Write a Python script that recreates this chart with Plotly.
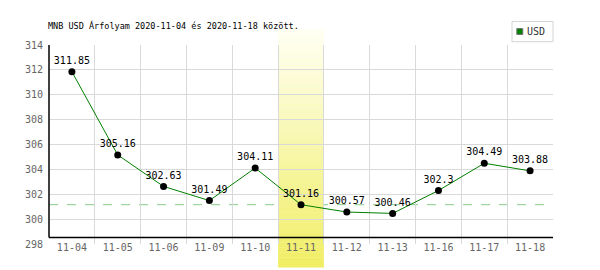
import plotly.graph_objects as go

dates = ["11-04", "11-05", "11-06", "11-09", "11-10", "11-11", "11-12", "11-13", "11-16", "11-17", "11-18"]
usd = [311.85, 305.16, 302.63, 301.49, 304.11, 301.16, 300.57, 300.46, 302.3, 304.49, 303.88]
highlight_idx = 5
ref_value = 301.16
title_text = "MNB USD Árfolyam 2020-11-04 és 2020-11-18 között."
series_name = "USD"

MONO = "DejaVu Sans Mono"

fig = go.Figure()
fig.add_trace(go.Scatter(
    x=dates, y=usd, mode="lines+markers+text",
    line=dict(color="#008000", width=1),
    marker=dict(color="#000000", size=7),
    text=[f"{v:g}" for v in usd], textposition="top center",
    textfont=dict(family=MONO, size=10, color="#000000"),
    showlegend=False, cliponaxis=False,
))

shapes = []
# dashed reference line
shapes.append(dict(type="line", xref="paper", x0=0, x1=1, yref="y", y0=ref_value, y1=ref_value,
                   line=dict(color="#88cc88", width=1, dash="dash"), layer="between"))
# gradient band for highlighted day
n = 48
y_bot, y_top = -0.118, 1.08
top_c = (255, 255, 242)
bot_c = (240, 238, 100)
for i in range(n):
    t = i / (n - 1)
    c = tuple(round(bot_c[k] + (top_c[k] - bot_c[k]) * t) for k in range(3))
    y0 = y_bot + (y_top - y_bot) * i / n
    y1 = y_bot + (y_top - y_bot) * (i + 1) / n
    shapes.append(dict(type="rect", xref="x", x0=highlight_idx - 0.5, x1=highlight_idx + 0.5,
                       yref="paper", y0=y0, y1=y1 + 0.002, line=dict(width=0),
                       fillcolor="rgb(%d,%d,%d)" % c, layer="between"))
# axes lines
x_axis_y = 298.52
shapes.append(dict(type="line", xref="paper", x0=0, x1=1, yref="y", y0=x_axis_y, y1=x_axis_y,
                   line=dict(color="#000000", width=1.5), layer="above"))
shapes.append(dict(type="line", xref="paper", x0=0, x1=0, yref="y", y0=x_axis_y, y1=314,
                   line=dict(color="#000000", width=1.5), layer="above"))
# manual legend box
PW = 504.0
PH = 199.5
L, T = 48.7, 45.0
def px_x(p):
    return (p - L) / PW
def px_y(p):
    return (T + PH - p) / PH
shapes.append(dict(type="rect", xref="paper", yref="paper", x0=px_x(511.7), x1=px_x(552.7),
                   y0=px_y(41.7), y1=px_y(21.5), line=dict(color="#d4d4d4", width=1),
                   fillcolor="#ffffff", layer="above"))
shapes.append(dict(type="rect", xref="paper", yref="paper", x0=px_x(516.5), x1=px_x(522.5),
                   y0=px_y(34.5), y1=px_y(28.5), line=dict(color="#777777", width=1),
                   fillcolor="#008000", layer="above"))

annotations = [
    dict(text=title_text, xref="paper", yref="paper", x=px_x(46), y=px_y(25),
         xanchor="left", yanchor="middle", showarrow=False,
         font=dict(family=MONO, size=8.5, color="#000000")),
    dict(text=series_name, xref="paper", yref="paper", x=px_x(524.5), y=px_y(31.5),
         xanchor="left", yanchor="middle", showarrow=False,
         font=dict(family=MONO, size=10, color="#333333")),
]

fig.update_layout(
    width=600, height=270,
    margin=dict(l=48.7, r=600 - 552.7, t=45, b=270 - 244.5, pad=0),
    paper_bgcolor="#ffffff", plot_bgcolor="#ffffff",
    shapes=shapes, annotations=annotations, showlegend=False,
    font=dict(family=MONO, size=10, color="#666666"),
)
fig.update_xaxes(type="category", tickson="boundaries", showgrid=True, gridcolor="#d9d9d9",
                 gridwidth=1, showline=False, zeroline=False, ticks="",
                 tickfont=dict(family=MONO, size=10, color="#666666"),
                 range=[-0.5, len(dates) - 0.5], ticklabelstandoff=-4)
fig.update_yaxes(range=[298, 314], dtick=2, showgrid=True, gridcolor="#d9d9d9", gridwidth=1,
                 showline=False, zeroline=False, ticks="",
                 tickfont=dict(family=MONO, size=10, color="#666666"), ticklabelstandoff=5)

fig.write_html("out.html")
